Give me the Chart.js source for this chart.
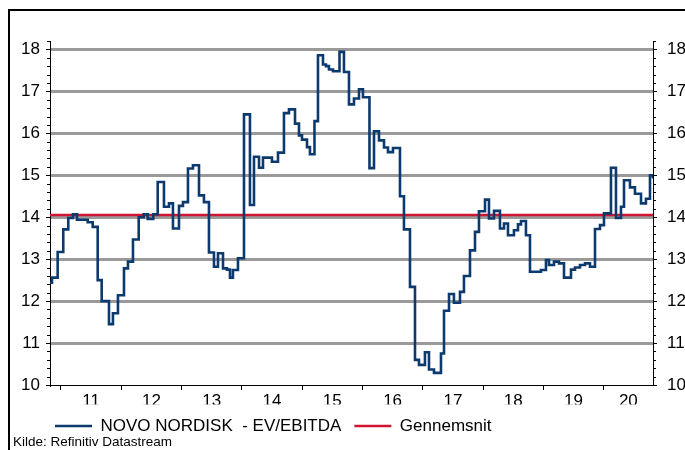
<!DOCTYPE html>
<html><head><meta charset="utf-8">
<script src="https://cdn.jsdelivr.net/npm/chart.js@4/dist/chart.umd.min.js"></script>
<style>
html,body{margin:0;padding:0;background:#fff;overflow:hidden;width:685px;height:450px}
#frame{position:absolute;left:8px;top:9px;width:700px;height:480px;border:2px solid #000;box-sizing:border-box}
canvas{position:absolute;left:0;top:0}
</style></head><body>
<div id="frame"></div>
<canvas id="c" width="685" height="450"></canvas>
<script>
// Decimal-year dates where each level of the series begins
const years = [
 2010.818, 2010.851, 2010.945, 2011.038, 2011.121, 2011.199, 2011.265, 2011.443, 2011.526, 2011.609,
 2011.675, 2011.796, 2011.862, 2011.945, 2012.045, 2012.111, 2012.194, 2012.289, 2012.371, 2012.438,
 2012.531, 2012.604, 2012.708, 2012.791, 2012.857, 2012.957, 2013.023, 2013.106, 2013.189, 2013.289,
 2013.371, 2013.454, 2013.537, 2013.604, 2013.687, 2013.753, 2013.803, 2013.852, 2013.935, 2014.035,
 2014.134, 2014.201, 2014.284, 2014.350, 2014.499, 2014.599, 2014.698, 2014.781, 2014.881, 2014.947,
 2014.997, 2015.080, 2015.129, 2015.204, 2015.262, 2015.345, 2015.395, 2015.444, 2015.511, 2015.619,
 2015.693, 2015.776, 2015.859, 2015.942, 2016.008, 2016.116, 2016.191, 2016.274, 2016.357, 2016.423,
 2016.506, 2016.622, 2016.688, 2016.788, 2016.871, 2016.937, 2017.036, 2017.103, 2017.186, 2017.302,
 2017.352, 2017.435, 2017.517, 2017.617, 2017.683, 2017.783, 2017.866, 2017.932, 2018.032, 2018.098,
 2018.181, 2018.280, 2018.347, 2018.413, 2018.512, 2018.579, 2018.629, 2018.711, 2018.778, 2018.960,
 2019.043, 2019.093, 2019.176, 2019.259, 2019.342, 2019.458, 2019.524, 2019.607, 2019.690, 2019.773,
 2019.856, 2019.939, 2020.005, 2020.121, 2020.204, 2020.287, 2020.337, 2020.436, 2020.519, 2020.619,
 2020.701, 2020.768, 2020.818
];
const evEbitda = [
 12.44, 12.56, 13.17, 13.71, 13.98, 14.07, 13.94, 13.88, 13.77, 12.5,
 12.0, 11.45, 11.71, 12.14, 12.78, 12.94, 13.47, 14.0, 14.07, 13.96,
 14.07, 14.84, 14.25, 14.33, 13.73, 14.27, 14.36, 15.16, 15.24, 14.52,
 14.36, 13.16, 12.82, 13.14, 12.78, 12.75, 12.56, 12.74, 13.02, 16.45,
 14.29, 15.44, 15.18, 15.42, 15.32, 15.54, 16.48, 16.57, 16.23, 15.95,
 15.85, 15.67, 15.5, 16.29, 17.86, 17.64, 17.6, 17.52, 17.48, 17.94,
 17.46, 16.69, 16.83, 17.05, 16.86, 15.17, 16.05, 15.83, 15.66, 15.55,
 15.65, 14.5, 13.71, 12.34, 10.6, 10.48, 10.78, 10.37, 10.29, 10.75,
 11.77, 12.17, 11.96, 12.22, 12.6, 13.21, 13.65, 14.14, 14.42, 13.97,
 14.15, 13.73, 13.85, 13.57, 13.69, 13.83, 13.91, 13.57, 12.7, 12.74,
 12.98, 12.86, 12.94, 12.9, 12.56, 12.75, 12.8, 12.86, 12.9, 12.82,
 13.72, 13.81, 14.09, 15.18, 13.98, 14.25, 14.88, 14.71, 14.56, 14.33,
 14.44, 15.0, 14.92
];
const averageValue = 14.05;
const yTickValues = [10, 11, 12, 13, 14, 15, 16, 17, 18];
const xTickYears = [2011, 2012, 2013, 2014, 2015, 2016, 2017, 2018, 2019, 2020];
const xLabelYears = [2011.5, 2012.5, 2013.5, 2014.5, 2015.5, 2016.5, 2017.5, 2018.5, 2019.5, 2020.409];
const seriesLabel = 'NOVO NORDISK  - EV/EBITDA';
const averageLabel = 'Gennemsnit';
const sourceText = 'Kilde: Refinitiv Datastream';
const xMin = 2010.818, xMax = 2020.818, yMin = 10, yMax = 18.2, yMinorStep = 0.2;

const BLUE = '#0c3a6e', RED = '#cf1531', GRID = '#9a9a9a';
const FAMILY = "'Liberation Sans', Arial, sans-serif";
const tickFont = {family: FAMILY, size: 17};

const minorTicks = {
  id: 'minorTicks',
  afterDraw(chart) {
    const ys = chart.scales.y, {left, right} = chart.chartArea, c = chart.ctx;
    c.save(); c.strokeStyle = '#000'; c.lineWidth = 1; c.beginPath();
    const n = Math.round((yMax - yMin) / yMinorStep);
    for (let i = 0; i <= n; i++) {
      const v = yMin + i * yMinorStep;
      if (Math.abs(v - Math.round(v)) < 1e-6) continue;
      const py = Math.round(ys.getPixelForValue(v)) + 0.5;
      c.moveTo(left - 3, py); c.lineTo(left, py);
      c.moveTo(right, py); c.lineTo(right + 3, py);
    }
    c.stroke(); c.restore();
  }
};
const legendShift = {
  id: 'legendShift',
  afterLayout(chart) { if (chart.legend) { chart.legend.left -= 8; chart.legend.right -= 8; } }
};

new Chart(document.getElementById('c'), {
  type: 'line',
  data: {
    datasets: [
      {label: seriesLabel, data: years.map((x, i) => ({x, y: evEbitda[i]})), borderColor: BLUE, backgroundColor: BLUE,
       borderWidth: 2.6, pointRadius: 0, stepped: true, tension: 0},
      {label: averageLabel, data: [{x: xMin, y: averageValue}, {x: xMax, y: averageValue}], borderColor: RED, backgroundColor: RED,
       borderWidth: 2.5, pointRadius: 0}
    ]
  },
  options: {
    responsive: false, animation: false, devicePixelRatio: 1,
    layout: {padding: {left: 13, right: 0, top: 41, bottom: 0.5}},
    scales: {
      x: {
        type: 'linear', min: xMin, max: xMax,
        afterBuildTicks: ax => { ax.ticks = [...xTickYears, ...xLabelYears].sort((a, b) => a - b).map(v => ({value: v})); },
        ticks: {autoSkip: false, maxRotation: 0, padding: 1, color: '#000', font: tickFont,
                callback: v => Number.isInteger(v) ? '' : String(Math.floor(v)).slice(2)},
        grid: {drawOnChartArea: false, tickLength: 5, tickWidth: 1,
               tickColor: c => Number.isInteger(c.tick.value) ? '#000' : 'rgba(0,0,0,0)'},
        border: {color: '#000', width: 1},
        afterFit: ax => { ax.height = 19.5; }
      },
      y: {
        position: 'left', min: yMin, max: yMax,
        afterBuildTicks: ax => { ax.ticks = yTickValues.map(v => ({value: v})); },
        ticks: {padding: 6, color: '#000', font: tickFont},
        grid: {color: c => c.tick && c.tick.value === yMin ? 'rgba(0,0,0,0)' : GRID, lineWidth: 3,
               tickLength: 4, tickWidth: 1, tickColor: '#000'},
        border: {color: '#000', width: 1},
        afterFit: ax => { ax.width = 37; }
      },
      y2: {
        position: 'right', min: yMin, max: yMax,
        afterBuildTicks: ax => { ax.ticks = yTickValues.map(v => ({value: v})); },
        ticks: {padding: 10, color: '#000', font: tickFont},
        grid: {drawOnChartArea: false, tickLength: 4, tickWidth: 1, tickColor: '#000'},
        border: {color: '#000', width: 1},
        afterFit: ax => { ax.width = 32; }
      }
    },
    plugins: {
      legend: {position: 'bottom', align: 'start', fullSize: false,
               labels: {boxWidth: 37, boxHeight: 0, padding: 13, color: '#000', font: tickFont}},
      subtitle: {display: true, text: sourceText, position: 'bottom', align: 'start', color: '#000',
                 font: {family: FAMILY, size: 13.5, lineHeight: 1}, padding: {top: -8.5, bottom: 0}},
      tooltip: {enabled: false}
    }
  },
  plugins: [minorTicks, legendShift]
});
</script>
</body></html>
